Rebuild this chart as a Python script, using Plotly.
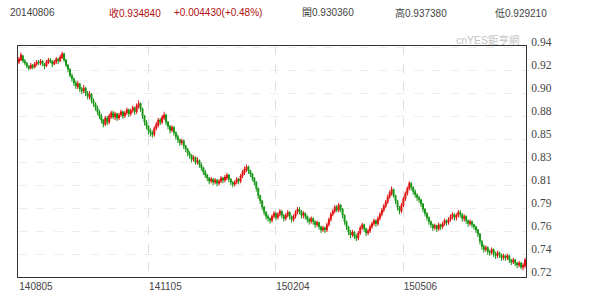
import plotly.graph_objects as go
import pandas as pd

# trading-day categories (YYMMDD)
dates = [d.strftime("%y%m%d") for d in pd.bdate_range("2014-08-05", "2015-07-31")]

# prices in thousandths
opens = [928,930,934,929,927,924,922,925,923,926,928,927,929,926,924,927,930,929,926,928,
         931,929,932,936,930,925,921,915,912,908,904,907,902,900,903,898,894,897,891,888,
         884,880,876,872,868,874,870,875,879,875,878,874,877,880,876,879,882,878,881,884,
         880,885,888,883,876,870,866,862,860,858,864,867,872,870,874,877,870,866,862,865,
         860,856,853,850,852,847,844,840,838,834,836,831,833,829,826,822,819,816,813,815,
         812,814,811,813,816,814,816,819,815,812,810,812,815,813,818,821,824,827,823,820,
         816,812,806,799,794,788,783,779,777,775,779,782,778,781,784,780,777,780,783,779,
         776,779,783,786,784,780,782,779,776,774,777,774,771,773,769,766,768,766,771,776,
         781,784,788,785,790,786,780,774,769,764,761,764,760,758,763,768,771,767,763,765,
         769,772,775,772,777,781,785,789,793,798,801,805,799,794,788,784,790,796,801,806,
         811,807,803,800,797,795,791,786,782,778,774,771,768,770,767,771,769,772,775,773,
         776,779,781,778,780,783,781,777,779,775,772,774,771,769,766,762,755,750,747,749,
         745,744,747,743,741,744,742,739,741,739,741,737,735,737,734,732,734,730,731]
highs = [933,937,935,931,928,925,927,926,928,930,930,931,930,927,930,932,932,930,930,933,
         932,935,938,937,931,926,922,917,913,910,910,908,904,906,904,900,900,898,893,889,
         886,882,878,873,876,876,878,881,881,880,879,879,882,881,881,884,883,883,886,885,
         888,891,889,884,877,872,867,864,862,866,870,874,874,877,880,878,871,867,867,866,
         861,858,854,854,853,848,845,842,839,838,837,836,834,831,827,824,820,817,817,816,
         816,815,815,818,817,819,821,820,816,813,814,817,816,820,824,827,829,828,824,821,
         817,813,807,800,795,789,784,781,778,781,784,783,783,786,785,781,782,785,784,780,
         781,785,788,788,785,784,783,780,778,779,778,775,775,774,770,770,769,773,778,783,
         786,790,790,792,791,787,781,775,770,766,766,765,762,765,770,773,772,768,767,771,
         774,777,776,779,783,787,791,795,800,804,808,806,800,795,789,792,798,803,808,813,
         812,808,805,801,799,796,792,787,783,779,775,772,772,771,773,772,774,777,776,778,
         781,783,782,782,785,785,782,781,780,776,776,775,772,770,767,763,756,752,751,750,
         747,749,748,745,746,745,743,743,742,743,742,738,739,738,735,736,735,734,739]
lows  = [926,929,927,925,922,920,921,921,922,924,925,925,924,921,923,926,927,923,925,926,
         926,928,931,928,923,918,913,909,905,902,902,899,897,898,895,892,892,888,885,881,
         877,873,869,865,866,867,868,873,873,872,871,872,875,873,874,877,875,876,879,877,
         878,883,880,873,867,863,858,856,855,856,862,865,867,868,872,867,863,859,860,857,
         853,850,847,848,844,841,837,835,831,832,829,829,826,823,819,816,813,810,811,809,
         810,808,809,811,811,812,814,812,809,807,808,810,810,811,816,819,822,820,817,813,
         809,803,796,791,785,780,776,774,772,773,777,775,776,779,777,774,775,778,776,773,
         774,777,781,781,777,777,776,773,771,772,771,768,769,766,763,764,763,764,769,774,
         779,782,783,783,783,777,771,766,761,758,759,757,755,756,761,766,764,760,761,763,
         767,770,769,770,775,779,783,787,791,796,799,797,791,785,781,782,788,794,799,804,
         804,800,797,794,792,788,783,779,775,771,768,765,766,764,765,766,767,770,770,771,
         774,776,775,775,778,778,774,774,772,769,770,768,766,763,759,752,747,744,745,742,
         741,742,740,738,739,739,736,737,736,737,734,732,733,731,729,730,728,727,729]
closes = [931,935,929,927,924,922,925,923,926,928,927,929,926,924,928,930,929,926,928,931,
          929,933,936,930,925,921,915,912,908,905,907,902,900,903,898,895,897,891,888,884,
          880,876,872,868,874,870,876,879,875,878,874,877,880,876,879,882,878,881,884,880,
          886,888,883,876,870,866,862,860,858,864,868,872,870,875,877,870,866,862,865,860,
          856,853,850,852,847,844,840,838,834,836,831,833,829,826,822,819,816,813,815,812,
          814,811,813,816,814,817,819,815,812,810,812,815,813,818,822,825,827,823,820,816,
          812,806,799,794,788,783,779,777,775,779,782,778,781,784,780,777,780,783,779,776,
          779,783,786,784,780,782,779,776,774,777,774,771,773,769,766,768,766,771,776,781,
          784,788,785,790,786,780,774,769,764,761,764,760,758,763,768,771,767,763,765,769,
          772,775,772,777,781,785,789,793,798,802,805,799,794,788,784,790,796,801,806,811,
          807,803,800,797,795,791,786,782,778,774,771,768,770,767,771,769,772,775,773,776,
          779,781,778,780,783,781,777,779,775,772,774,771,769,766,762,755,750,747,749,745,
          744,747,743,741,744,742,739,741,739,741,737,735,737,734,732,734,730,732,737]

x_ticks = ["140805", "141105", "150204", "150506"]
y_tick_labels = ["0.72", "0.74", "0.76", "0.79", "0.81", "0.83", "0.85", "0.88", "0.90", "0.92", "0.94"]
y_min, y_step = 0.7205, 0.0222
y_tick_vals = [round(y_min + k * y_step, 4) for k in range(len(y_tick_labels))]

header_date = "20140806"
header_close = "收0.934840"
header_change = "+0.004430(+0.48%)"
header_open = "開0.930360"
header_high = "高0.937380"
header_low = "低0.929210"
watermark = "cnYES鉅亨網"

UP = "#e01010"
DOWN = "#169616"

fig = go.Figure()
fig.add_trace(go.Candlestick(
    x=dates,
    open=[v / 1000 for v in opens],
    high=[v / 1000 for v in highs],
    low=[v / 1000 for v in lows],
    close=[v / 1000 for v in closes],
    increasing=dict(line=dict(color=UP, width=1), fillcolor=UP),
    decreasing=dict(line=dict(color=DOWN, width=1), fillcolor=DOWN),
    whiskerwidth=0,
    showlegend=False,
    hoverinfo="skip",
))

# crosshair at hovered day
fig.add_shape(type="line", xref="x", yref="paper", x0=dates[1], x1=dates[1], y0=0, y1=1,
              line=dict(color="#a9c9e2", width=2), layer="below")

fig.update_layout(
    width=600, height=304,
    margin=dict(l=18, r=74, t=46, b=23),
    paper_bgcolor="white", plot_bgcolor="white",
    font=dict(family="Liberation Sans, Noto Sans CJK TC", size=10, color="#444"),
    xaxis=dict(
        type="category", rangeslider=dict(visible=False),
        range=[-0.5, len(dates) - 0.5],
        tickmode="array", tickvals=x_ticks, ticktext=x_ticks,
        ticks="", ticklabelshift=17,
        showgrid=True, gridcolor="#dddddd", griddash="dash", gridwidth=1,
        showline=True, linecolor="#333", linewidth=1, mirror=True,
        tickfont=dict(family="Liberation Sans", size=10, color="#444"),
        zeroline=False,
    ),
    yaxis=dict(
        side="right", range=[0.7205, 0.9435],
        tickmode="array", tickvals=y_tick_vals, ticktext=y_tick_labels,
        ticks="", ticklabelshift=-5, ticklabelstandoff=2,
        showgrid=True, gridcolor="#eeeeee", griddash="dash", gridwidth=1,
        showline=True, linecolor="#333", linewidth=1, mirror=True,
        tickfont=dict(family="Liberation Serif", size=11.5, color="#444"),
        zeroline=False,
    ),
)

hdr_font = dict(family="Liberation Sans, Noto Sans CJK TC", size=10, color="#444")
red_font = dict(family="Liberation Sans, Noto Sans CJK TC", size=10, color="#b01010")
for txt, xpx, f in [(header_date, 8, hdr_font), (header_close, 107, red_font),
                    (header_change, 172, red_font), (header_open, 300, hdr_font),
                    (header_high, 393, hdr_font), (header_low, 493, hdr_font)]:
    fig.add_annotation(text=txt, xref="paper", yref="paper",
                       x=(xpx - 18) / 508, y=1 + (46 - 12) / 235,
                       xanchor="left", yanchor="middle", showarrow=False, font=f)

fig.add_annotation(text=watermark, xref="paper", yref="paper",
                   x=(522 - 18) / 508, y=1 + (46 - 40) / 235, xanchor="right", yanchor="middle",
                   showarrow=False,
                   font=dict(family="Liberation Sans, Noto Sans CJK TC", size=10.5, color="#c4c4c4"))

fig.write_html("out.html")
